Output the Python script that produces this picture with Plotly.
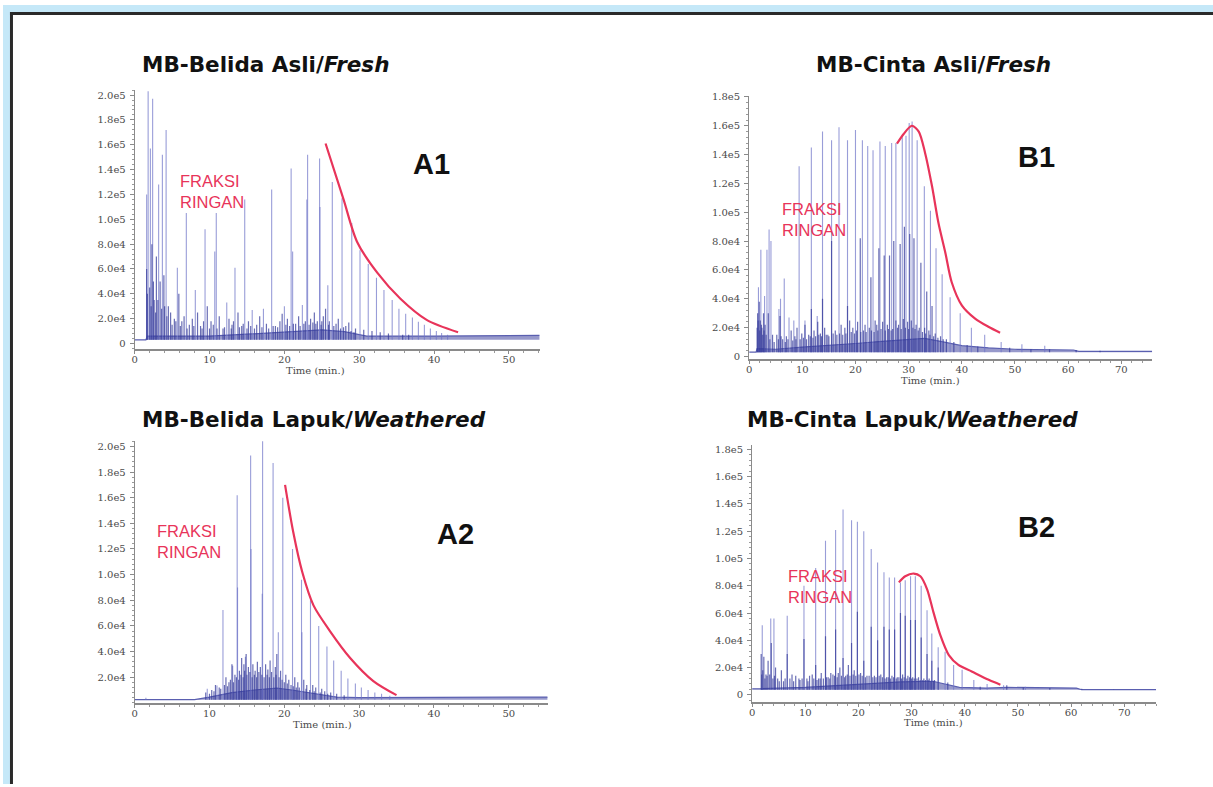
import plotly.graph_objects as go

W, H = 1213, 787

# ======================= DATA =======================
# time in minutes, intensity in units of 1e3 counts
# ---------- A1 : MB-Belida Asli/Fresh ----------
a1_hump = [(0, 3), (1.5, 3), (1.7, 6), (5, 6), (10, 6), (15, 7.5), (20, 9), (25, 11), (28, 9.5), (31, 6), (40, 6), (54.1, 6.5)]
a1_major = [(1.6, 120), (1.8, 203), (2.1, 157), (2.4, 197), (3.2, 128), (3.7, 152), (4.2, 172), (5.7, 61), (6.9, 105),
            (8.1, 43), (9.4, 92), (10.7, 74), (10.9, 105), (12.3, 33), (13.4, 61), (14.7, 116), (15.7, 27), (17.2, 28),
            (18.3, 124), (20.0, 30), (20.9, 141), (21.1, 74), (22.4, 31), (23.0, 116), (23.1, 152), (24.7, 149),
            (24.75, 110), (25.8, 47), (26.4, 130), (27.7, 117), (29.0, 97), (30.1, 75), (31.2, 64), (32.3, 53),
            (33.3, 43), (34.4, 35), (35.3, 28), (36.2, 24), (37.1, 21), (37.9, 17.5), (38.7, 15), (39.5, 12),
            (40.3, 10), (41.0, 8.5), (41.8, 7)]
a1_minor = [(1.6, 60), (2.0, 45), (2.3, 80), (2.6, 35), (2.9, 70), (3.4, 50), (3.9, 55), (4.5, 30), (4.8, 25), (5.3, 20),
            (5.9, 40), (6.3, 18), (6.6, 22), (7.3, 15), (7.7, 20), (8.4, 25), (8.8, 14), (9.7, 30), (10.2, 18),
            (11.3, 22), (11.8, 12), (12.6, 20), (13.0, 15), (13.8, 25), (14.3, 14), (15.2, 18), (16.3, 15), (16.7, 22),
            (17.6, 16), (18.8, 14), (19.4, 18), (19.7, 24), (20.4, 20), (21.5, 16), (21.9, 22), (22.8, 18), (23.5, 20),
            (24.0, 25), (24.4, 18), (25.2, 22), (25.5, 28), (26.0, 18), (26.9, 16), (27.2, 20), (28.2, 14), (28.6, 17),
            (29.5, 12), (30.6, 11), (31.7, 10), (32.8, 9), (33.9, 8), (35.8, 7), (36.6, 7)]
a1_forest = [(1.7, 40), (2.2, 30), (2.5, 50), (2.8, 25), (3.1, 35), (3.6, 28), (4.0, 30), (4.3, 22), (5.0, 15), (5.5, 18),
             (6.1, 14), (7.0, 12), (7.9, 14), (9.0, 12), (9.2, 18), (10.0, 12), (10.5, 15), (11.0, 12), (12.0, 13),
             (12.9, 12), (13.2, 18), (14.0, 13), (14.5, 16), (15.0, 12), (15.5, 14), (16.0, 12), (17.0, 13), (17.9, 12),
             (18.5, 14), (19.1, 13), (20.2, 15), (20.7, 14), (21.2, 16), (22.1, 14), (22.6, 16), (23.3, 15), (23.8, 17),
             (24.2, 16), (24.9, 15), (25.0, 18), (25.9, 15), (26.6, 14), (27.5, 12), (27.9, 13), (28.9, 10), (29.3, 9)]
a1_env = [(25.5, 161), (27.9, 116), (29.7, 82), (32.4, 57), (35.5, 36), (39.0, 19), (43.2, 9)]

# ---------- A2 : MB-Belida Lapuk/Weathered ----------
a2_hump = [(0, 2.5), (8, 2.5), (10, 4.5), (13, 8), (16, 10), (19, 11.5), (21, 10), (24, 7), (27, 4.5), (30, 4), (55.2, 4.5)]
a2_major = [(1.5, 4), (9.7, 11), (11.0, 13.6), (11.8, 72.5), (13.1, 29), (13.7, 162), (13.75, 90), (14.8, 36),
            (15.5, 193), (15.55, 120), (17.1, 204), (17.05, 85), (18.5, 187), (19.2, 55), (19.8, 160), (21.1, 120),
            (22.3, 96), (22.35, 55), (23.5, 80), (24.6, 60), (25.7, 44), (26.6, 33), (27.6, 25), (28.5, 19),
            (29.5, 15), (30.3, 12), (31.2, 10), (32.1, 8), (33.0, 7), (34.1, 5.5)]
a2_minor = [(9.5, 8), (10.3, 10), (10.8, 14), (11.3, 12), (12.2, 20), (12.6, 16), (13.0, 30), (13.4, 22), (14.0, 25),
            (14.3, 35), (14.6, 30), (14.9, 38), (15.2, 28), (15.8, 30), (16.1, 25), (16.4, 32), (16.8, 28), (17.5, 30),
            (17.8, 26), (18.1, 33), (18.8, 28), (19.0, 38), (19.5, 25), (20.2, 22), (20.6, 18), (21.4, 20), (21.8, 16),
            (22.6, 18), (23.0, 14), (23.8, 14), (24.2, 12), (25.0, 11), (25.4, 9), (26.2, 8), (27.0, 7), (28.0, 6)]
a2_forest = [(10.0, 7), (10.6, 9), (11.5, 11), (12.0, 14), (12.4, 13), (12.8, 18), (13.2, 16), (13.6, 20), (13.9, 18),
             (14.2, 22), (14.5, 20), (14.7, 25), (15.0, 22), (15.4, 24), (15.7, 20), (16.0, 22), (16.3, 20), (16.6, 24),
             (17.0, 22), (17.3, 20), (17.7, 22), (18.0, 20), (18.3, 24), (18.6, 20), (18.9, 22), (19.3, 20), (19.7, 18),
             (20.0, 16), (20.4, 15), (20.9, 14), (21.2, 13), (21.6, 12), (22.0, 12), (22.9, 11), (23.4, 10), (24.0, 9),
             (24.8, 8), (25.8, 7)]
a2_env = [(20.1, 170), (21.2, 133), (22.4, 102), (23.9, 76), (26.1, 56), (28.8, 35), (31.9, 17), (35.0, 6)]

# ---------- B1 : MB-Cinta Asli/Fresh ----------
b1_hump = [(0, 3), (1.3, 3), (1.5, 5.5), (5, 5), (10, 6.5), (15, 7.5), (20, 9), (25, 10.5), (30, 12), (33, 12.5), (36, 10.5),
           (40, 7.5), (45, 6), (50, 5), (61, 4.5), (62, 3.5), (75.8, 3.5)]
b1_major = [(1.75, 48), (2.2, 74), (2.9, 42), (3.35, 74), (3.75, 88), (4.1, 80), (5.6, 33), (5.9, 40), (6.6, 54),
            (7.5, 27), (8.4, 25), (9.4, 132), (10.5, 25), (11.7, 145), (12.8, 28), (13.8, 156), (15.5, 150),
            (16.9, 159), (18.5, 150), (20.0, 157), (21.3, 150), (22.3, 146), (23.3, 143), (24.6, 149), (25.6, 146),
            (26.8, 148), (27.6, 148), (28.8, 152), (29.5, 153), (30.1, 162), (30.65, 163), (31.6, 150), (32.95, 118),
            (34.1, 101), (35.15, 75), (36.3, 57), (37.8, 41), (39.7, 30), (41.8, 20), (44.3, 15), (47.4, 10),
            (51.3, 8.5), (55.6, 7.5)]
b1_minor = [(1.6, 30), (1.9, 38), (2.1, 25), (2.4, 20), (2.7, 30), (3.0, 22), (3.6, 30), (4.4, 15), (5.2, 15), (5.8, 28),
            (6.3, 12), (7.0, 14), (7.9, 18), (8.6, 14), (9.0, 20), (9.9, 16), (10.5, 22), (11.2, 15), (11.7, 33),
            (12.2, 18), (12.9, 24), (13.4, 16), (13.8, 40), (14.2, 20), (14.8, 15), (15.5, 80), (16.2, 18), (17.3, 22),
            (18.0, 20), (18.5, 35), (18.9, 25), (19.5, 20), (20.4, 24), (20.9, 82), (21.8, 22), (22.6, 20), (22.9, 55),
            (23.7, 25), (24.0, 22), (24.4, 75), (25.1, 24), (25.4, 70), (26.0, 22), (26.4, 70), (27.2, 80), (27.6, 25),
            (28.1, 22), (28.4, 78), (29.0, 26), (29.2, 90), (29.8, 24), (30.2, 85), (30.5, 25), (31.0, 82), (31.4, 22),
            (32.0, 20), (32.3, 65), (33.0, 20), (33.4, 45), (33.8, 18), (34.4, 35), (35.0, 16), (36.0, 14), (37.1, 12),
            (38.5, 10), (41.0, 8), (43.0, 7), (49.0, 6), (53.0, 5), (56.5, 5), (61.5, 4.5), (66.0, 4)]
b1_forest = [(1.5, 20), (1.7, 25), (2.0, 18), (2.3, 22), (2.55, 15), (2.8, 18), (3.2, 15), (3.9, 12), (4.7, 10), (5.5, 12),
             (6.0, 14), (6.8, 10), (7.3, 12), (8.2, 11), (8.8, 12), (9.6, 12), (10.2, 13), (10.8, 12), (11.5, 14),
             (12.0, 13), (12.5, 14), (13.1, 15), (13.6, 14), (14.5, 15), (15.0, 14), (15.8, 16), (16.5, 15), (17.0, 16),
             (17.6, 15), (18.2, 16), (19.2, 17), (19.8, 16), (20.2, 18), (21.0, 17), (21.5, 18), (22.0, 17), (23.0, 18),
             (23.5, 17), (24.2, 18), (24.8, 19), (25.6, 18), (26.2, 19), (26.7, 18), (27.0, 19), (27.9, 20), (28.6, 19),
             (29.4, 20), (30.0, 19), (30.8, 20), (31.2, 19), (31.8, 18), (32.6, 17), (33.2, 16), (34.0, 15), (34.7, 14),
             (35.5, 13), (36.5, 12)]
b1_env = [(27.8, 147.6), (29.1, 154.5), (30.6, 160), (31.9, 156), (33.1, 141), (34.4, 118), (35.6, 92.7), (36.9, 72),
          (38.1, 51.5), (40.0, 35.5), (42.5, 26.3), (45.0, 20.6), (47.2, 16.5)]

# ---------- B2 : MB-Cinta Lapuk/Weathered ----------
b2_hump = [(0, 4.5), (1.5, 4.5), (10, 5.5), (20, 7.5), (28, 9.5), (34, 10), (36, 8), (39, 5.5), (44, 5), (48, 5.5), (61, 5),
           (62, 3.8), (76, 3.8)]
b2_major = [(1.9, 51), (3.5, 56), (4.1, 56), (6.6, 58), (9.75, 80), (11.95, 93), (13.8, 113), (15.7, 121), (17.1, 136),
            (18.7, 128), (19.8, 127), (21.0, 120), (22.4, 107), (23.6, 97), (24.8, 90), (25.8, 86), (26.8, 86),
            (27.9, 82.5), (28.8, 84), (29.8, 87), (30.7, 87), (31.8, 80), (32.9, 62), (33.8, 45), (35.0, 35),
            (36.3, 31.7), (37.9, 22), (39.5, 18.4), (41.7, 11), (44.2, 8), (47.3, 7), (51.4, 6)]
b2_minor = [(1.7, 30), (2.2, 28), (2.6, 15), (3.0, 25), (3.6, 38), (4.4, 20), (4.8, 12), (5.5, 18), (5.9, 10), (6.6, 30),
            (7.1, 12), (7.5, 15), (8.2, 14), (8.8, 12), (9.75, 41), (10.3, 12), (10.8, 14), (11.3, 15), (11.95, 22),
            (12.5, 12), (13.0, 16), (13.8, 43), (14.3, 13), (14.8, 16), (15.2, 15), (15.7, 48), (16.2, 16), (16.5, 20),
            (17.1, 27), (17.6, 14), (18.1, 22), (18.7, 38), (19.2, 18), (19.8, 61), (20.4, 16), (21.0, 25), (21.6, 14),
            (22.4, 50), (23.0, 14), (23.6, 40), (24.2, 15), (24.8, 50), (25.3, 13), (25.8, 48), (26.3, 14), (26.8, 48),
            (27.3, 13), (27.9, 60), (28.3, 15), (28.8, 58), (29.3, 14), (29.8, 55), (30.2, 13), (30.7, 55), (31.3, 13),
            (31.8, 42), (32.3, 12), (32.9, 30), (33.3, 12), (33.8, 25), (34.3, 11), (35.0, 20), (36.8, 9), (42.9, 6),
            (47.9, 7), (51.0, 5.5), (56.0, 5), (62.0, 4.5), (68.0, 4)]
b2_forest = [(1.8, 15), (2.0, 18), (2.4, 12), (2.8, 14), (3.3, 15), (3.9, 12), (4.2, 14), (5.1, 10), (6.2, 12), (7.8, 10),
             (9.0, 11), (9.4, 12), (10.5, 10), (11.6, 12), (12.2, 11), (12.8, 12), (13.4, 12), (14.0, 13), (14.6, 12),
             (15.5, 14), (16.0, 13), (16.8, 14), (17.4, 13), (17.9, 15), (18.4, 14), (19.0, 15), (19.5, 14), (20.1, 15),
             (20.7, 14), (21.3, 13), (22.0, 14), (22.7, 13), (23.3, 13), (23.9, 14), (24.5, 13), (25.0, 12), (25.6, 13),
             (26.0, 12), (26.6, 13), (27.1, 12), (27.6, 13), (28.1, 12), (28.6, 13), (29.1, 12), (29.6, 13), (30.0, 12),
             (30.5, 12), (31.0, 12), (31.6, 11), (32.1, 11), (32.6, 11), (33.1, 11), (33.6, 10), (34.1, 10)]
b2_env = [(27.6, 82.5), (28.8, 87), (30.4, 89), (31.65, 87), (32.9, 77.6), (34.1, 60.7), (35.4, 43.8), (37.0, 29.2),
          (38.8, 22), (41.3, 17.2), (44.5, 11.1), (46.7, 7.5)]

# ---------- titles / tick labels ----------
titles = ["MB-Belida Asli/<i>Fresh</i>", "MB-Cinta Asli/<i>Fresh</i>",
          "MB-Belida Lapuk/<i>Weathered</i>", "MB-Cinta Lapuk/<i>Weathered</i>"]
panel_tags = ["A1", "B1", "A2", "B2"]
light_fraction = "FRAKSI<br>RINGAN"
x_title = "Time (min.)"
y_ticks_k = [0, 20, 40, 60, 80, 100, 120, 140, 160, 180, 200]
y_tick_text = ["0", "2.0e4", "4.0e4", "6.0e4", "8.0e4", "1.0e5", "1.2e5", "1.4e5", "1.6e5", "1.8e5", "2.0e5"]

# ======================= STYLE / LAYOUT =======================
def px(x):
    return x / W


def py(y):
    return 1 - y / H


RED = "#E8345A"
BG = "#C5E8F8"
TICKFONT = dict(family="DejaVu Serif", size=10, color="#4a4a4a")

panels = [
    dict(hump=a1_hump, major=a1_major, minor=a1_minor + a1_forest, env=a1_env, box=(132, 538, 86, 348), xr=(0, 54.1),
         yr=(-4.8, 204), yt=(0, 11), floor=3, title=(263, 60), tag=(430, 161), frak=(175, 188), xt=(313, 369)),
    dict(hump=b1_hump, major=b1_major, minor=b1_minor + b1_forest, env=b1_env, box=(748, 1152, 92, 358), xr=(0, 75.8),
         yr=(-2, 180.6), yt=(0, 10), floor=3, title=(933, 60), tag=(1036, 154), frak=(779, 217), xt=(930, 379)),
    dict(hump=a2_hump, major=a2_major, minor=a2_minor + a2_forest, env=a2_env, box=(132, 546, 440, 705), xr=(0, 55.2),
         yr=(0, 204.6), yt=(1, 11), floor=2.5, title=(312, 419), tag=(454, 534), frak=(152, 542), xt=(320, 727)),
    dict(hump=b2_hump, major=b2_major, minor=b2_minor + b2_forest, env=b2_env, box=(751, 1156, 445, 704), xr=(0, 76),
         yr=(-5.1, 182.9), yt=(0, 10), floor=3.8, title=(912, 419), tag=(1036, 527), frak=(785, 587), xt=(933, 725)),
]


def spikes(pairs, floor):
    xs, ys = [], []
    for t, h in pairs:
        xs += [t, t, None]
        ys += [floor * 1000, h * 1000, None]
    return xs, ys


fig = go.Figure()
annotations = []

for i, p in enumerate(panels):
    n = "" if i == 0 else str(i + 1)
    xa, ya = "x" + n, "y" + n
    l, r, t, b = p["box"]
    common = dict(xaxis=xa, yaxis=ya, showlegend=False, hoverinfo="skip")

    fig.add_trace(go.Scatter(x=[p["hump"][0][0], p["hump"][-1][0]], y=[p["floor"] * 1000] * 2, mode="lines",
                             line=dict(width=0, color="rgba(0,0,0,0)"), **common))
    fig.add_trace(go.Scatter(x=[q[0] for q in p["hump"]], y=[q[1] * 1000 for q in p["hump"]], mode="lines",
                             fill="tonexty", fillcolor="rgba(65,70,160,0.55)",
                             line=dict(width=1.2, color="#5A5FB0"), **common))
    mx, my = spikes(p["major"], p["floor"])
    fig.add_trace(go.Scatter(x=mx, y=my, mode="lines", line=dict(width=1.1, color="rgba(110,115,200,0.7)"),
                             **common))
    sx, sy = spikes(p["minor"], p["floor"])
    fig.add_trace(go.Scatter(x=sx, y=sy, mode="lines", line=dict(width=1.2, color="rgba(55,60,155,0.75)"), **common))
    fig.add_trace(go.Scatter(x=[q[0] for q in p["env"]], y=[q[1] * 1000 for q in p["env"]], mode="lines",
                             line=dict(width=2.2, color=RED, shape="spline", smoothing=0.8), **common))

    a0, a1 = p["yt"]
    axis_common = dict(showline=True, linecolor="#8a8a8a", ticks="outside", tickcolor="#8a8a8a",
                       showgrid=False, zeroline=False, tickfont=TICKFONT, fixedrange=True)
    fig.update_layout(**{
        ("xaxis" + n): dict(domain=[px(l), px(r)], range=list(p["xr"]), anchor=ya, tickmode="linear", tick0=0,
                            dtick=10, ticklen=3, linewidth=2, ticklabelstandoff=-3,
                            minor=dict(ticks="outside", ticklen=2, tickmode="linear", tick0=0, dtick=2,
                                       tickcolor="#9a9a9a"),
                            **axis_common),
        ("yaxis" + n): dict(domain=[py(b), py(t)], range=[p["yr"][0] * 1000, p["yr"][1] * 1000], anchor=xa,
                            tickmode="array", tickvals=[v * 1000 for v in y_ticks_k[a0:a1]],
                            ticktext=y_tick_text[a0:a1], ticklen=4, linewidth=1, ticklabelstandoff=2,
                            minor=dict(ticks="outside", ticklen=2, tickmode="linear", tick0=0, dtick=4000,
                                       tickcolor="#9a9a9a"),
                            **axis_common),
    })

    annotations += [
        dict(x=px(p["title"][0]), y=py(p["title"][1]), xref="paper", yref="paper", text="<b>" + titles[i] + "</b>",
             showarrow=False, xanchor="center", yanchor="middle",
             font=dict(family="DejaVu Sans", size=21.5, color="#111111")),
        dict(x=px(p["tag"][0]), y=py(p["tag"][1]), xref="paper", yref="paper", text="<b>" + panel_tags[i] + "</b>",
             showarrow=False, xanchor="center", yanchor="middle",
             font=dict(family="Liberation Sans", size=29, color="#111111")),
        dict(x=px(p["frak"][0]), y=py(p["frak"][1]), xref="paper", yref="paper", text=light_fraction,
             showarrow=False, xanchor="left", yanchor="middle", align="left",
             font=dict(family="Liberation Sans", size=16.5, color=RED)),
        dict(x=px(p["xt"][0]), y=py(p["xt"][1]), xref="paper", yref="paper", text=x_title,
             showarrow=False, xanchor="center", yanchor="middle",
             font=dict(family="DejaVu Serif", size=10, color="#4a4a4a")),
    ]

# light-blue outer strips (top and left) and dark frame edges, all inside the figure
frame_shapes = [
    dict(type="rect", xref="paper", yref="paper", x0=0, x1=1, y0=py(7), y1=1,
         fillcolor=BG, line=dict(width=0), layer="below"),
    dict(type="rect", xref="paper", yref="paper", x0=0, x1=px(7), y0=0, y1=1,
         fillcolor=BG, line=dict(width=0), layer="below"),
    dict(type="rect", xref="paper", yref="paper", x0=px(7), x1=px(10), y0=0, y1=py(7),
         fillcolor="#2a2a2a", line=dict(width=0), layer="below"),
    dict(type="rect", xref="paper", yref="paper", x0=px(7), x1=1, y0=py(10), y1=py(7),
         fillcolor="#2a2a2a", line=dict(width=0), layer="below"),
]

fig.update_layout(
    width=W, height=H, margin=dict(l=0, r=0, t=0, b=0),
    paper_bgcolor="white", plot_bgcolor="rgba(0,0,0,0)",
    annotations=annotations,
    shapes=frame_shapes,
)

fig.write_html("out.html", config={"displayModeBar": False},
               post_script="var s=document.documentElement.style;s.margin='0';s.padding='0';s.overflow='hidden';"
                           "s.background='white';"
                           "var b=document.body.style;b.margin='0';b.padding='0';b.overflow='hidden';"
                           "b.background='white';")
